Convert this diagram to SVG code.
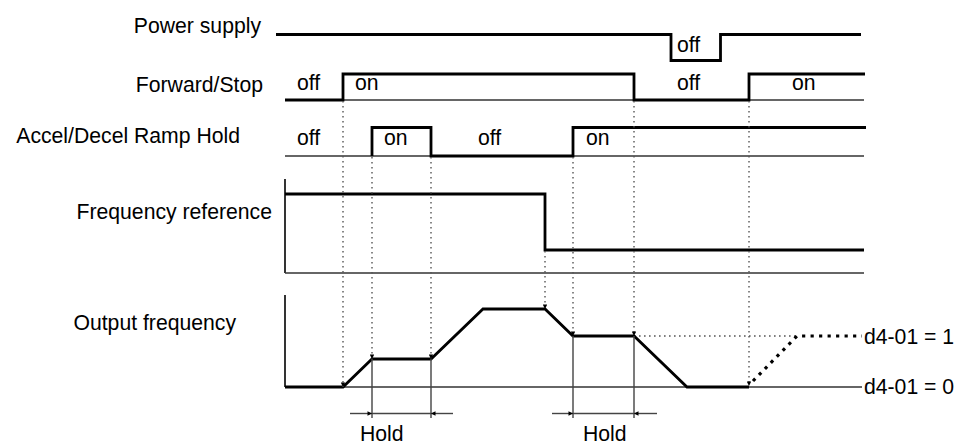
<svg xmlns="http://www.w3.org/2000/svg" width="956" height="444" viewBox="0 0 956 444">
<style>
text{font-family:"Liberation Sans",Arial,sans-serif;font-size:21.2px;fill:#000}
.lbl{text-anchor:end}
.sig{fill:none;stroke:#000;stroke-width:2.8;stroke-linejoin:miter}
.base{fill:none;stroke:#333;stroke-width:1.4}
.axis{fill:none;stroke:#000;stroke-width:1.6}
.guide{fill:none;stroke:#555;stroke-width:1.4;stroke-dasharray:1.6 3.4}
.hold{fill:none;stroke:#444;stroke-width:1.4}
.bigdot{fill:none;stroke:#000;stroke-width:3.2;stroke-dasharray:3.2 5.3}
</style>
<defs>
<marker id="ah" viewBox="0 0 10 10" refX="10" refY="5" markerWidth="9" markerHeight="4.5" markerUnits="userSpaceOnUse" orient="auto">
<path d="M0,0 L10,5 L0,10 Z" fill="#000"/>
</marker>
</defs>
<rect width="956" height="444" fill="#fff"/>

<g id="power-supply">
<text class="lbl" x="261" y="33">Power supply</text>
<path class="sig" d="M276,34.5 H671 V60.5 H720.5 V34.5 H861"/>
<text x="677" y="52">off</text>
</g>

<g id="forward-stop">
<text class="lbl" x="263" y="92">Forward/Stop</text>
<path class="base" d="M285,100 H864"/>
<path class="sig" d="M285,100 H343 V74 H634 V100 H749 V74 H865"/>
<text x="297" y="90">off</text>
<text x="355" y="90">on</text>
<text x="677" y="90">off</text>
<text x="792" y="90">on</text>
</g>

<g id="accel-decel-ramp-hold">
<text class="lbl" x="240" y="143">Accel/Decel Ramp Hold</text>
<path class="base" d="M285,156 H864"/>
<path class="sig" d="M372,156 V127.5 H431 V156 H573 V127.5 H866"/>
<text x="297" y="145">off</text>
<text x="384" y="145">on</text>
<text x="478" y="145">off</text>
<text x="586" y="145">on</text>
</g>

<g id="frequency-reference">
<text class="lbl" x="272" y="219">Frequency reference</text>
<path class="axis" d="M285,179 V273"/>
<path class="base" d="M285,273 H864"/>
<path class="sig" d="M285,194 H545 V250 H864"/>
</g>

<g id="output-frequency">
<text class="lbl" x="236" y="330">Output frequency</text>
<path class="axis" d="M285,295 V387"/>
<path class="base" d="M285,387 H862"/>
<path class="guide" d="M634,336 H797"/>
<path class="sig" d="M285,387 H343 L372,359 H431 L483,309 H545 L573,336 H634 L687,387 H749"/>
<path class="bigdot" d="M753,381 L797,336 H862"/>
<text x="864" y="344">d4-01 = 1</text>
<text x="864" y="394">d4-01 = 0</text>
<text x="360" y="441">Hold</text>
<text x="583" y="441">Hold</text>
</g>

<g id="connectors">
<path class="guide" marker-end="url(#ah)" d="M343,101 V387"/>
<path class="guide" marker-end="url(#ah)" d="M372,157 V359"/>
<path class="guide" marker-end="url(#ah)" d="M431,157 V359"/>
<path class="guide" marker-end="url(#ah)" d="M545,251 V309"/>
<path class="guide" marker-end="url(#ah)" d="M573,157 V336"/>
<path class="guide" marker-end="url(#ah)" d="M634,101 V336"/>
<path class="guide" marker-end="url(#ah)" d="M749,101 V386"/>
<path class="hold" d="M372,359 V418 M431,359 V418 M573,336 V418 M634,336 V418"/>
<path class="hold" d="M372,413.5 H431 M573,413.5 H634"/>
<path class="hold" marker-end="url(#ah)" d="M350,413.5 H372"/>
<path class="hold" marker-end="url(#ah)" d="M453,413.5 H431"/>
<path class="hold" marker-end="url(#ah)" d="M552,413.5 H573"/>
<path class="hold" marker-end="url(#ah)" d="M657,413.5 H634"/>
</g>
</svg>
